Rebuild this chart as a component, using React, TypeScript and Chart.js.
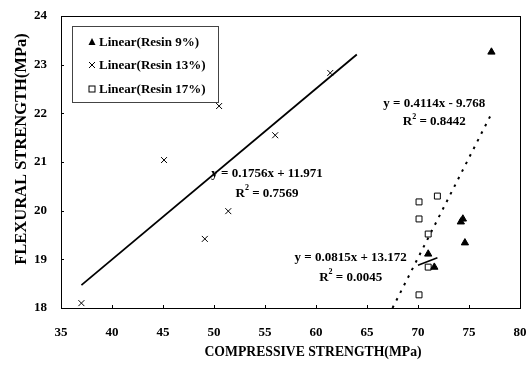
import React, { useEffect, useRef } from 'react';
import { Chart, registerables } from 'chart.js';

Chart.register(...registerables);

// ---- data ----
const resin9X = [71.0, 71.6, 74.2, 74.4, 74.6, 77.2];
const resin9Y = [19.11, 18.84, 19.77, 19.83, 19.34, 23.26];
const resin13X = [37.0, 45.1, 49.1, 50.5, 51.4, 56.0, 61.4];
const resin13Y = [18.1, 21.04, 19.42, 22.15, 19.99, 21.55, 22.83];
const resin17X = [70.1, 71.9, 70.1, 71.0, 71.0, 70.1];
const resin17Y = [20.18, 20.3, 19.83, 19.52, 18.84, 18.27];

// trend line end points
const trend9X = [67.5, 77.1];
const trend9Y = [18.0, 21.95];
const trend13X = [37.0, 64.0];
const trend13Y = [18.47, 23.21];
const trend17X = [70.0, 71.9];
const trend17Y = [18.88, 19.03];

const xTicks = [35, 40, 45, 50, 55, 60, 65, 70, 75, 80];
const yTicks = [18, 19, 20, 21, 22, 23, 24];

const legendLabels = ['Linear(Resin 9%)', 'Linear(Resin 13%)', 'Linear(Resin 17%)'];
const eq9 = ['y = 0.4114x - 9.768', '0.8442'];
const eq13 = ['y = 0.1756x + 11.971', '0.7569'];
const eq17 = ['y = 0.0815x + 13.172', '0.0045'];
const xTitle = 'COMPRESSIVE STRENGTH(MPa)';
const yTitle = 'FLEXURAL STRENGTH(MPa)';

const FONT = '"Liberation Serif", "Times New Roman", serif';

const pts = (xs: number[], ys: number[]) => xs.map((x, i) => ({ x, y: ys[i] }));

function drawMarker(ctx: CanvasRenderingContext2D, kind: string, x: number, y: number) {
  ctx.save();
  ctx.strokeStyle = '#000';
  ctx.fillStyle = '#000';
  ctx.lineWidth = 1;
  if (kind === 'tri') {
    ctx.beginPath();
    ctx.moveTo(x, y - 4);
    ctx.lineTo(x + 3.5, y + 3);
    ctx.lineTo(x - 3.5, y + 3);
    ctx.closePath();
    ctx.fill();
  } else if (kind === 'cross') {
    ctx.beginPath();
    ctx.moveTo(x - 3, y - 3);
    ctx.lineTo(x + 3, y + 3);
    ctx.moveTo(x + 3, y - 3);
    ctx.lineTo(x - 3, y + 3);
    ctx.stroke();
  } else {
    ctx.fillStyle = '#fff';
    ctx.fillRect(x - 3, y - 3, 6, 6);
    ctx.strokeRect(x - 3, y - 3, 6, 6);
  }
  ctx.restore();
}

function drawEq(ctx: CanvasRenderingContext2D, lines: string[], cx: number, cy1: number, cy2: number) {
  ctx.font = `bold 13px ${FONT}`;
  ctx.textBaseline = 'middle';
  ctx.textAlign = 'center';
  ctx.fillStyle = '#000';
  ctx.fillText(lines[0], cx, cy1);
  const rest = ' = ' + lines[1];
  ctx.textAlign = 'left';
  const wR = ctx.measureText('R').width;
  const wRest = ctx.measureText(rest).width;
  ctx.font = `bold 8px ${FONT}`;
  const w2 = ctx.measureText('2').width;
  const total = wR + w2 + wRest;
  let x = cx - total / 2;
  ctx.font = `bold 13px ${FONT}`;
  ctx.fillText('R', x, cy2);
  x += wR;
  ctx.font = `bold 8px ${FONT}`;
  ctx.fillText('2', x, cy2 - 5);
  x += w2;
  ctx.font = `bold 13px ${FONT}`;
  ctx.fillText(rest, x, cy2);
}

const overlay = {
  id: 'overlay',
  afterDraw(chart: any) {
    const { ctx, chartArea: a, scales } = chart;
    const xs = scales.x;
    const ys = scales.y;
    ctx.save();
    ctx.strokeStyle = '#000';
    ctx.lineWidth = 1;
    ctx.strokeRect(a.left + 0.5, a.top + 0.5, a.right - a.left, a.bottom - a.top);
    // inner tick marks
    ctx.beginPath();
    xTicks.forEach((v) => {
      const px = Math.round(xs.getPixelForValue(v)) + 0.5;
      ctx.moveTo(px, a.bottom);
      ctx.lineTo(px, a.bottom - 3);
    });
    yTicks.forEach((v) => {
      const py = Math.round(ys.getPixelForValue(v)) + 0.5;
      ctx.moveTo(a.left, py);
      ctx.lineTo(a.left + 3, py);
    });
    ctx.stroke();

    // legend box
    const lx = 72, ly = 26, lw = 146, lh = 76;
    ctx.fillStyle = '#fff';
    ctx.fillRect(lx, ly, lw, lh);
    ctx.strokeStyle = '#444';
    ctx.strokeRect(lx + 0.5, ly + 0.5, lw, lh);
    const kinds = ['tri', 'cross', 'rect'];
    const rowsY = [42, 65, 89];
    ctx.font = `bold 13px ${FONT}`;
    ctx.textBaseline = 'middle';
    ctx.textAlign = 'left';
    legendLabels.forEach((t, i) => {
      drawMarker(ctx, kinds[i], 92, rowsY[i]);
      ctx.fillStyle = '#000';
      ctx.fillText(t, 99, rowsY[i] + 1);
    });

    // equations
    drawEq(ctx, eq13, xs.getPixelForValue(55.2), ys.getPixelForValue(20.77), ys.getPixelForValue(20.36));
    drawEq(ctx, eq9, xs.getPixelForValue(71.6), ys.getPixelForValue(22.2), ys.getPixelForValue(21.83));
    drawEq(ctx, eq17, xs.getPixelForValue(63.4), ys.getPixelForValue(19.04), ys.getPixelForValue(18.63));

    // axis titles
    ctx.fillStyle = '#000';
    ctx.textAlign = 'center';
    ctx.textBaseline = 'middle';
    ctx.font = `bold 13.7px ${FONT}`;
    ctx.fillText(xTitle, 313, 352);
    ctx.save();
    ctx.translate(22, 149);
    ctx.rotate(-Math.PI / 2);
    ctx.font = `bold 16.5px ${FONT}`;
    ctx.fillText(yTitle, 0, 0);
    ctx.restore();
    ctx.restore();
  },
};

export default function App() {
  const ref = useRef<HTMLCanvasElement>(null);
  useEffect(() => {
    document.body.style.margin = '0';
    const canvas = ref.current!;
    const tickFont = { family: FONT, size: 13, weight: 'bold' as const };
    const chart = new Chart(canvas, {
      type: 'scatter',
      data: {
        datasets: [
          {
            label: legendLabels[0],
            data: pts(resin9X, resin9Y),
            pointStyle: 'triangle',
            pointRadius: 4.2,
            backgroundColor: '#000',
            borderColor: '#000',
            borderWidth: 1,
          },
          {
            label: legendLabels[1],
            data: pts(resin13X, resin13Y),
            pointStyle: 'crossRot',
            pointRadius: 4.2,
            backgroundColor: '#000',
            borderColor: '#000',
            borderWidth: 1,
          },
          {
            label: legendLabels[2],
            data: pts(resin17X, resin17Y),
            pointStyle: 'rect',
            pointRadius: 4.2,
            backgroundColor: '#fff',
            borderColor: '#000',
            borderWidth: 1,
          },
          {
            label: 'trend9',
            data: pts(trend9X, trend9Y),
            showLine: true,
            pointRadius: 0,
            borderColor: '#000',
            borderWidth: 2,
            borderDash: [2.5, 6],
          },
          {
            label: 'trend13',
            data: pts(trend13X, trend13Y),
            showLine: true,
            pointRadius: 0,
            borderColor: '#000',
            borderWidth: 1.8,
          },
          {
            label: 'trend17',
            data: pts(trend17X, trend17Y),
            showLine: true,
            pointRadius: 0,
            borderColor: '#000',
            borderWidth: 1.6,
          },
        ],
      },
      options: {
        animation: false,
        responsive: false,
        devicePixelRatio: 1,
        layout: { padding: { left: 0, right: 7, top: 16, bottom: 0 } },
        plugins: { legend: { display: false }, tooltip: { enabled: false } },
        scales: {
          x: {
            type: 'linear',
            min: 35,
            max: 80,
            afterBuildTicks: (s: any) => {
              s.ticks = xTicks.map((v) => ({ value: v }));
            },
            afterFit: (s: any) => {
              s.height = 57;
              s.paddingLeft = 0;
              s.paddingRight = 0;
            },
            grid: { display: false, drawTicks: false },
            border: { display: true, color: '#000' },
            ticks: { font: tickFont, color: '#000', padding: 17, maxRotation: 0 },
          },
          y: {
            type: 'linear',
            min: 18,
            max: 24,
            afterBuildTicks: (s: any) => {
              s.ticks = yTicks.map((v) => ({ value: v }));
            },
            afterFit: (s: any) => {
              s.width = 61;
              s.paddingTop = 0;
              s.paddingBottom = 0;
            },
            grid: { display: false, drawTicks: false },
            border: { display: true, color: '#000' },
            ticks: { font: tickFont, color: '#000', padding: 14 },
          },
        },
      },
      plugins: [overlay],
    });
    return () => chart.destroy();
  }, []);
  return (
    <div style={{ width: 527, height: 365 }}>
      <canvas ref={ref} width={527} height={365} style={{ display: 'block', background: '#fff' }} />
    </div>
  );
}
